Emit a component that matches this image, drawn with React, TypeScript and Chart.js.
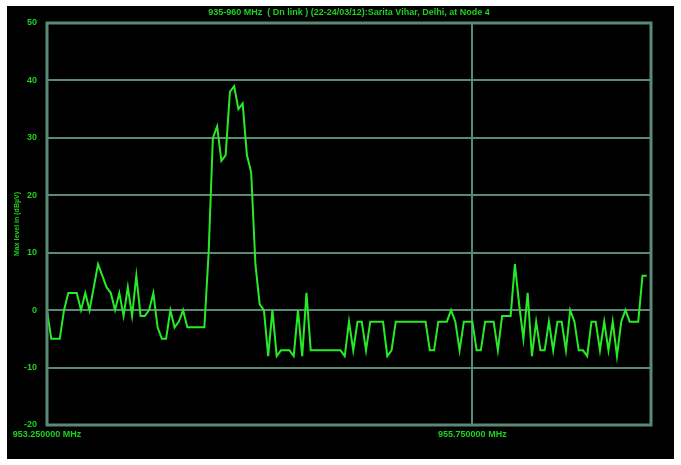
import React, { useEffect, useRef } from "react";
import { Chart, registerables } from "chart.js";

Chart.register(...registerables);

const chartTitle = "935-960 MHz  ( Dn link ) (22-24/03/12):Sarita Vihar, Delhi, at Node 4";
const yAxisTitle = "Max level in (dB\u00b5V)";
const yTicks = [-20, -10, 0, 10, 20, 30, 40, 50];
// sweep point index of the labelled frequencies (25 kHz per point)
const xTickIndex = [0, 100];
const xTickLabels = ["953.250000 MHz", "955.750000 MHz"];
const sweepPoints = 142;

// measured max level (dBµV) at each sweep point
const levels = [
  0, -5, -5, -5, 0, 3, 3, 3, 0, 3,
  0, 4, 8, 6, 4, 3, 0, 3, -1, 4,
  -1, 6, -1, -1, 0, 3, -3, -5, -5, 0,
  -3, -2, 0, -3, -3, -3, -3, -3, 10, 30,
  32, 26, 27, 38, 39, 35, 36, 27, 24, 8,
  1, 0, -8, 0, -8, -7, -7, -7, -8, 0,
  -8, 3, -7, -7, -7, -7, -7, -7, -7, -7,
  -8, -2, -7, -2, -2, -7, -2, -2, -2, -2,
  -8, -7, -2, -2, -2, -2, -2, -2, -2, -2,
  -7, -7, -2, -2, -2, 0, -2, -7, -2, -2,
  -2, -7, -7, -2, -2, -2, -7, -1, -1, -1,
  8, 1, -5, 3, -8, -2, -7, -7, -2, -7,
  -2, -2, -7, 0, -2, -7, -7, -8, -2, -2,
  -7, -2, -7, -2, -8, -2, 0, -2, -2, -2,
  6, 6,
];

const GREEN_TEXT = "rgb(30,210,30)";
const LINE = "rgb(40,235,40)";
const GRID = "rgb(88,138,118)";
const FONT = { family: "Arial, 'Liberation Sans', sans-serif", size: 9, weight: "bold" as const };

export default function App() {
  const ref = useRef<HTMLCanvasElement | null>(null);
  useEffect(() => {
    if (!ref.current) return;
    const frame = {
      id: "frame",
      afterDatasetsDraw(chart: any) {
        const { ctx, chartArea } = chart;
        ctx.save();
        ctx.strokeStyle = GRID;
        ctx.lineWidth = 3;
        ctx.strokeRect(chartArea.left, chartArea.top, chartArea.right - chartArea.left, chartArea.bottom - chartArea.top);
        ctx.restore();
      },
      afterDraw(chart: any) {
        const { ctx, chartArea } = chart;
        ctx.save();
        ctx.fillStyle = GREEN_TEXT;
        ctx.font = `bold 9px Arial, 'Liberation Sans', sans-serif`;
        ctx.textAlign = "center";
        ctx.textBaseline = "middle";
        ctx.fillText(chartTitle, (chartArea.left + chartArea.right) / 2, 7);
        ctx.restore();
      },
    };
    const chart = new Chart(ref.current, {
      type: "line",
      data: {
        datasets: [
          {
            data: levels.map((v, i) => ({ x: i, y: v })),
            borderColor: LINE,
            borderWidth: 2,
            pointRadius: 0,
            tension: 0,
            fill: false,
          },
        ],
      },
      options: {
        animation: false,
        responsive: false,
        events: [],
        layout: { padding: { top: 17, right: 23, left: 0, bottom: 0 } },
        plugins: { legend: { display: false }, tooltip: { enabled: false }, title: { display: false } },
        scales: {
          x: {
            type: "linear",
            min: 0,
            max: sweepPoints,
            afterBuildTicks: (scale: any) => {
              scale.ticks = xTickIndex.map((v) => ({ value: v }));
            },
            afterFit: (scale: any) => {
              scale.height = 34;
            },
            ticks: {
              color: GREEN_TEXT,
              font: FONT,
              maxRotation: 0,
              autoSkip: false,
              padding: 4,
              callback: (v: any) => {
                const k = xTickIndex.indexOf(Number(v));
                return k >= 0 ? xTickLabels[k] : "";
              },
            },
            grid: { color: GRID, lineWidth: 2, drawTicks: false },
            border: { display: false },
          },
          y: {
            min: -20,
            max: 50,
            afterBuildTicks: (scale: any) => {
              scale.ticks = yTicks.map((v) => ({ value: v }));
            },
            afterFit: (scale: any) => {
              scale.width = 40;
            },
            ticks: { color: GREEN_TEXT, font: FONT, padding: 10 },
            grid: { color: GRID, lineWidth: 2, drawTicks: false },
            border: { display: false },
            title: {
              display: true,
              text: yAxisTitle,
              color: GREEN_TEXT,
              font: { ...FONT, size: 7 },
              padding: { top: 6, bottom: 0 },
            },
          },
        },
      },
      plugins: [frame],
    });
    return () => chart.destroy();
  }, []);
  return (
    <div style={{ position: "absolute", left: 7, top: 6, width: 667, height: 453, background: "#000" }}>
      <canvas ref={ref} width={667} height={453} style={{ display: "block" }} />
    </div>
  );
}
